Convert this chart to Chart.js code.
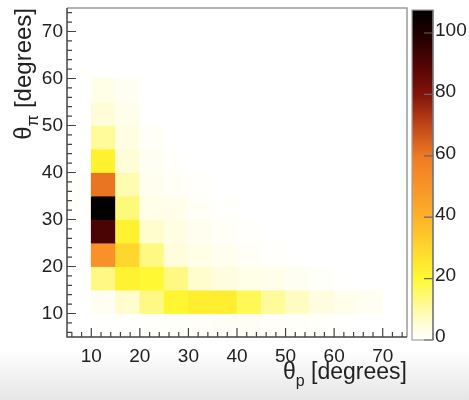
<!DOCTYPE html>
<html lang="en">
<head>
    <meta charset="UTF-8">
    <title>θp vs θπ</title>
    <script src="https://cdn.jsdelivr.net/npm/chart.js"></script>
    <style>
        html, body { margin: 0; padding: 0; }
        body { background: linear-gradient(to bottom, #ffffff 0, #ffffff 350px, #e6e6e6 400px); }
        #wrap { width: 469px; height: 400px; position: relative; }
    </style>
</head>
<body>
    <div id="wrap"><canvas id="heat"></canvas></div>

    <script>
        // bin lower edges (degrees), bin width 5
        var binW = 5;
        var xLow = [5, 10, 15, 20, 25, 30, 35, 40, 45, 50, 55, 60, 65, 70];
        var yLow = [5, 10, 15, 20, 25, 30, 35, 40, 45, 50, 55, 60, 65, 70];

        // counts per theta_pi bin, one entry per theta_p bin (xLow order)
        var row05 = [0, 0.3, 0.3, 0.4, 0.6, 1.0, 1.3, 1.3, 1.0, 0.6, 0.4, 0.3, 0, 0];
        var row10 = [0, 1.5, 6, 13, 21, 23, 23, 17, 11, 7, 4, 2.5, 1.5, 0];
        var row15 = [0, 13, 22, 20, 13, 6, 4, 3, 2.5, 1.5, 0.6, 0.3, 0, 0];
        var row20 = [0, 51, 30, 13, 4.5, 3, 2, 1, 0.5, 0, 0, 0, 0, 0];
        var row25 = [0, 91, 22, 6, 3.5, 2, 1, 0.4, 0, 0, 0, 0, 0, 0];
        var row30 = [0.5, 107, 14, 3, 2.5, 1, 0.4, 0, 0, 0, 0, 0, 0, 0];
        var row35 = [0.5, 61, 9, 2, 1, 0.4, 0, 0, 0, 0, 0, 0, 0, 0];
        var row40 = [0, 22, 5, 1.5, 0.5, 0, 0, 0, 0, 0, 0, 0, 0, 0];
        var row45 = [0, 11, 3.5, 1, 0, 0, 0, 0, 0, 0, 0, 0, 0, 0];
        var row50 = [0, 5, 2.5, 0, 0, 0, 0, 0, 0, 0, 0, 0, 0, 0];
        var row55 = [0, 3, 1.5, 0, 0, 0, 0, 0, 0, 0, 0, 0, 0, 0];
        var row60 = [0, 0, 0, 0, 0, 0, 0, 0, 0, 0, 0, 0, 0, 0];
        var row65 = [0, 0, 0, 0, 0, 0, 0, 0, 0, 0, 0, 0, 0, 0];
        var row70 = [0, 0, 0, 0, 0, 0, 0, 0, 0, 0, 0, 0, 0, 0];
        var counts = [row05, row10, row15, row20, row25, row30, row35, row40, row45, row50, row55, row60, row65, row70];

        var xTicks = [10, 20, 30, 40, 50, 60, 70];
        var yTicks = [10, 20, 30, 40, 50, 60, 70];
        var zTicks = [0, 20, 40, 60, 80, 100];
        var zMax = 107.5;

        var xTitle = ["θ", "p", " [degrees]"];
        var yTitle = ["θ", "π", " [degrees]"];

        // colour palette (white -> yellow -> orange -> red -> black)
        var zStops = [0, 5, 10, 15, 20, 25, 30, 40, 50, 60, 70, 80, 90, 100, 107.5];
        var zColors = [
            [255, 255, 255], [255, 253, 215], [255, 250, 165], [255, 249, 110], [255, 248, 50],
            [255, 232, 45], [255, 214, 45], [253, 178, 40], [248, 148, 40], [238, 122, 35],
            [190, 70, 25], [130, 18, 10], [80, 4, 4], [30, 0, 0], [0, 0, 0]
        ];

        var family = "'Liberation Sans', Arial, Helvetica, sans-serif";
        var textColor = "#222";

        function heatColor(v) {
            var t = Math.max(0, Math.min(v, zMax));
            for (var i = 1; i < zStops.length; i++) {
                if (t <= zStops[i]) {
                    var f = (t - zStops[i - 1]) / (zStops[i] - zStops[i - 1]);
                    var a = zColors[i - 1], b = zColors[i];
                    return "rgb(" + Math.round(a[0] + (b[0] - a[0]) * f) + "," +
                        Math.round(a[1] + (b[1] - a[1]) * f) + "," +
                        Math.round(a[2] + (b[2] - a[2]) * f) + ")";
                }
            }
            return "rgb(0,0,0)";
        }

        var cells = [];
        yLow.forEach(function(y0, r) {
            counts[r].forEach(function(n, c) {
                if (n > 0) cells.push({ x: xLow[c] + binW / 2, y: [y0, y0 + binW], v: n });
            });
        });

        function drawTitle(ctx, parts, size) {
            // right aligned, ends at x=0 on baseline 0
            var big = size + "px " + family;
            var small = Math.round(size * 0.7) + "px " + family;
            ctx.font = big;
            var w1 = ctx.measureText(parts[0]).width;
            var w3 = ctx.measureText(parts[2]).width;
            ctx.font = small;
            var w2 = ctx.measureText(parts[1]).width;
            var x = -(w1 + w2 + w3);
            ctx.textAlign = "left";
            ctx.textBaseline = "alphabetic";
            ctx.font = big;
            ctx.fillText(parts[0], x, 0);
            x += w1;
            ctx.font = small;
            ctx.fillText(parts[1], x, size * 0.3);
            x += w2;
            ctx.font = big;
            ctx.fillText(parts[2], x, 0);
        }

        // drop the label overflow padding so the plot frame lands where it should
        function noPad(s) {
            s.paddingTop = 0;
            s.paddingBottom = 0;
            s.paddingLeft = 0;
            s.paddingRight = 0;
        }

        var rootFrame = {
            id: "rootFrame",
            afterDatasetsDraw: function(chart) {
                var ctx = chart.ctx;
                var area = chart.chartArea;
                var sx = chart.scales.x, sy = chart.scales.y, sz = chart.scales.z;
                ctx.save();

                // frame
                ctx.lineWidth = 1.5;
                ctx.strokeStyle = "#9a9a9a";
                ctx.beginPath();
                ctx.moveTo(area.left, area.top);
                ctx.lineTo(area.right, area.top);
                ctx.lineTo(area.right, area.bottom);
                ctx.stroke();
                ctx.strokeStyle = "#444";
                ctx.beginPath();
                ctx.moveTo(area.left, area.top);
                ctx.lineTo(area.left, area.bottom);
                ctx.lineTo(area.right, area.bottom);
                ctx.stroke();

                // inward ticks, major and minor
                ctx.lineWidth = 1.2;
                ctx.beginPath();
                for (var v = 6; v <= 74; v += 2) {
                    var len = v % 10 === 0 ? 9 : 5;
                    var px = sx.getPixelForValue(v);
                    ctx.moveTo(px, area.bottom);
                    ctx.lineTo(px, area.bottom - len);
                    var py = sy.getPixelForValue(v);
                    ctx.moveTo(area.left, py);
                    ctx.lineTo(area.left + len, py);
                }
                ctx.stroke();

                // colour bar
                var x0 = area.right + 5, x1 = area.right + 26;
                var yTop = sz.getPixelForValue(zMax) + 2, yBot = sz.getPixelForValue(0) + 3;
                var grad = ctx.createLinearGradient(0, yBot, 0, yTop);
                zStops.forEach(function(s, i) {
                    grad.addColorStop(s / zMax, "rgb(" + zColors[i].join(",") + ")");
                });
                ctx.fillStyle = grad;
                ctx.fillRect(x0, yTop, x1 - x0, yBot - yTop);
                ctx.lineWidth = 1.2;
                ctx.strokeStyle = "#a0a0a0";
                ctx.strokeRect(x0, yTop, x1 - x0, yBot - yTop);
                ctx.strokeStyle = "#666";
                ctx.beginPath();
                ctx.moveTo(x1, yTop);
                ctx.lineTo(x1, yBot);
                zTicks.forEach(function(t) {
                    var py = yBot - (yBot - yTop) * t / zMax;
                    ctx.moveTo(x1, py);
                    ctx.lineTo(x1 - 9, py);
                });
                ctx.stroke();

                // axis titles
                ctx.fillStyle = textColor;
                ctx.save();
                ctx.translate(area.right, 379);
                drawTitle(ctx, xTitle, 23);
                ctx.restore();
                ctx.save();
                ctx.translate(31, area.top);
                ctx.rotate(-Math.PI / 2);
                drawTitle(ctx, yTitle, 24);
                ctx.restore();

                ctx.restore();
            }
        };

        var tickFont = { family: family, size: 19 };

        var chart = new Chart(document.getElementById("heat").getContext("2d"), {
            type: "bar",
            data: {
                datasets: [{
                    data: cells,
                    backgroundColor: function(c) { return heatColor(c.raw ? c.raw.v : 0); },
                    borderWidth: 0,
                    barPercentage: 1,
                    categoryPercentage: 1,
                    inflateAmount: 0.4
                }]
            },
            options: {
                responsive: true,
                maintainAspectRatio: false,
                animation: false,
                layout: { padding: { top: 8, left: 0, right: 0, bottom: 0 } },
                plugins: {
                    legend: { display: false },
                    tooltip: { enabled: false }
                },
                scales: {
                    x: {
                        type: "linear",
                        min: 5,
                        max: 75,
                        offset: false,
                        grid: { display: false, offset: false, drawTicks: false },
                        border: { display: false },
                        afterBuildTicks: function(s) { s.ticks = xTicks.map(function(v) { return { value: v }; }); },
                        afterFit: function(s) { s.height = 63; noPad(s); },
                        ticks: { font: tickFont, color: textColor, padding: 8, maxRotation: 0, autoSkip: false }
                    },
                    y: {
                        type: "linear",
                        min: 5,
                        max: 75,
                        grid: { display: false, drawTicks: false },
                        border: { display: false },
                        afterBuildTicks: function(s) { s.ticks = yTicks.map(function(v) { return { value: v }; }); },
                        afterFit: function(s) { s.width = 67; noPad(s); },
                        ticks: { font: tickFont, color: textColor, padding: 4, autoSkip: false }
                    },
                    z: {
                        type: "linear",
                        position: "right",
                        min: 0,
                        max: zMax,
                        grid: { display: false, drawTicks: false },
                        border: { display: false },
                        afterBuildTicks: function(s) { s.ticks = zTicks.map(function(v) { return { value: v }; }); },
                        afterFit: function(s) { s.width = 62; noPad(s); },
                        ticks: { font: tickFont, color: textColor, padding: 28, autoSkip: false }
                    }
                }
            },
            plugins: [rootFrame]
        });
    </script>
</body>
</html>
